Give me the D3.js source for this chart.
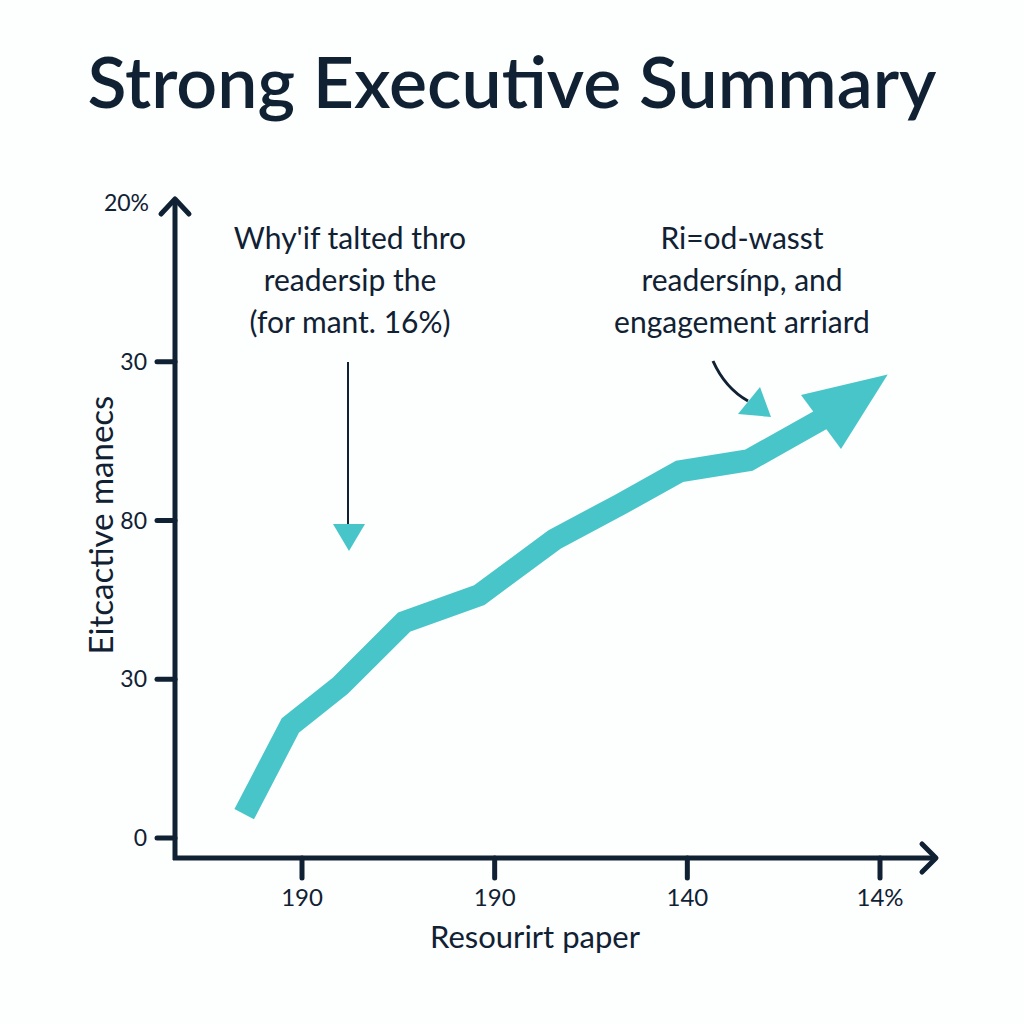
<!DOCTYPE html>
<html><head><meta charset="utf-8">
<script src="https://cdn.jsdelivr.net/npm/d3@7"></script>
<style>body{margin:0;background:#fdfefe}svg{display:block}</style>
</head><body>
<svg id="c" width="1024" height="1024"></svg>
<script>
const title = "Strong Executive Summary";
const yTickLabels = ["0", "30", "80", "30", "20%"];
const xTickLabels = ["190", "190", "140", "14%"];
const xLabel = "Resourirt paper";
const yLabel = "Eitcactive manecs";
const noteLeft = ["Why'if talted thro", "readersip the", "(for mant. 16%)"];
const noteRight = ["Ri=od-wasst", "readersínp, and", "engagement arriard"];
// line series: x on tick-index scale, y on tick-index scale
const lineX = [-0.30, -0.06, 0.20, 0.53, 0.92, 1.31, 1.65, 1.96, 2.32, 2.73];
const lineY = [0.15, 0.71, 0.96, 1.36, 1.53, 1.88, 2.10, 2.31, 2.38, 2.66];
const arrowTip = {x: 3.04, y: 2.92};

const ink = "#102133", teal = "#48c5c8";
const svg = d3.select("#c");
svg.append("rect").attr("width",1024).attr("height",1024).attr("fill","#fdfefe");

const x = d3.scaleLinear().domain([0, 3]).range([302, 880]);
const y = d3.scaleLinear().domain([0, 4]).range([838, 203]);
const font = "Lato, 'Open Sans', sans-serif";

svg.append("text").attr("x", 512).attr("y", 108).attr("text-anchor","middle")
  .attr("font-family", font).attr("font-weight", 600).attr("font-size", 72)
  .attr("textLength", 849).attr("lengthAdjust","spacingAndGlyphs")
  .attr("fill", ink).text(title);

// axes
const g = svg.append("g");
g.append("line").attr("x1",175).attr("x2",175).attr("y1",200).attr("y2",860)
  .attr("stroke",ink).attr("stroke-width",5);
g.append("line").attr("x1",173).attr("x2",935).attr("y1",858).attr("y2",858)
  .attr("stroke",ink).attr("stroke-width",5);
g.append("path").attr("d","M161,214 L175,199 L189,214").attr("fill","none")
  .attr("stroke",ink).attr("stroke-width",5).attr("stroke-linecap","round").attr("stroke-linejoin","round");
g.append("path").attr("d","M922,844 L936,858 L922,872").attr("fill","none")
  .attr("stroke",ink).attr("stroke-width",5).attr("stroke-linecap","round").attr("stroke-linejoin","round");

// y ticks
const yt = svg.append("g").selectAll("g").data(yTickLabels).join("g")
  .attr("transform",(d,i)=>`translate(0,${y(i)})`);
yt.filter((d,i)=>i<4).append("line").attr("x1",157).attr("x2",175).attr("stroke",ink).attr("stroke-width",5).attr("stroke-linecap","round");
yt.append("text").attr("x",(d,i)=>i<4?147:149).attr("dy","0.35em").attr("text-anchor","end")
  .attr("font-family",font).attr("font-size",23).attr("fill",ink).text(d=>d);

// x ticks
const xt = svg.append("g").selectAll("g").data(xTickLabels).join("g")
  .attr("transform",(d,i)=>`translate(${x(i)},0)`);
xt.append("line").attr("y1",858).attr("y2",878).attr("stroke",ink).attr("stroke-width",5).attr("stroke-linecap","round");
xt.append("text").attr("y",906).attr("text-anchor","middle").attr("font-family",font)
  .attr("font-size",24).attr("fill",ink).text(d=>d);

svg.append("text").attr("x",535).attr("y",948).attr("text-anchor","middle").attr("font-family",font)
  .attr("font-size",31).attr("fill",ink).text(xLabel);
svg.append("text").attr("transform","translate(113,525) rotate(-90)").attr("text-anchor","middle")
  .attr("font-family",font).attr("font-size",33).attr("fill",ink).text(yLabel);

// notes
const nl = svg.append("text").attr("font-family",font).attr("font-size",30).attr("fill",ink).attr("text-anchor","middle");
noteLeft.forEach((t,i)=>nl.append("tspan").attr("x",350).attr("y",249+i*42).text(t));
const nr = svg.append("text").attr("font-family",font).attr("font-size",30).attr("fill",ink).attr("text-anchor","middle");
noteRight.forEach((t,i)=>nr.append("tspan").attr("x",742).attr("y",249+i*42).text(t));

// down arrow
svg.append("line").attr("x1",348).attr("x2",348).attr("y1",362).attr("y2",528).attr("stroke",ink).attr("stroke-width",2);
svg.append("path").attr("d","M333,524 L365,524 L349,551 Z").attr("fill",teal);
// curved arrow
svg.append("path").attr("d","M713,361 Q725,388 748,401").attr("fill","none").attr("stroke",ink).attr("stroke-width",3);
svg.append("path").attr("d","M760,387 L738,414 L771,417 Z").attr("fill",teal);

// main line
const pts = lineX.map((v,i)=>[x(v), y(lineY[i])]);
const line = d3.line();
svg.append("path").attr("d", line(pts)).attr("fill","none").attr("stroke",teal)
  .attr("stroke-width",22).attr("stroke-linejoin","miter").attr("stroke-linecap","butt");
// arrowhead
const tip = [x(arrowTip.x), y(arrowTip.y)];
svg.append("path").attr("d",`M${tip[0]},${tip[1]} L801,395 L841,449 Z`).attr("fill",teal);
</script>
</body></html>
